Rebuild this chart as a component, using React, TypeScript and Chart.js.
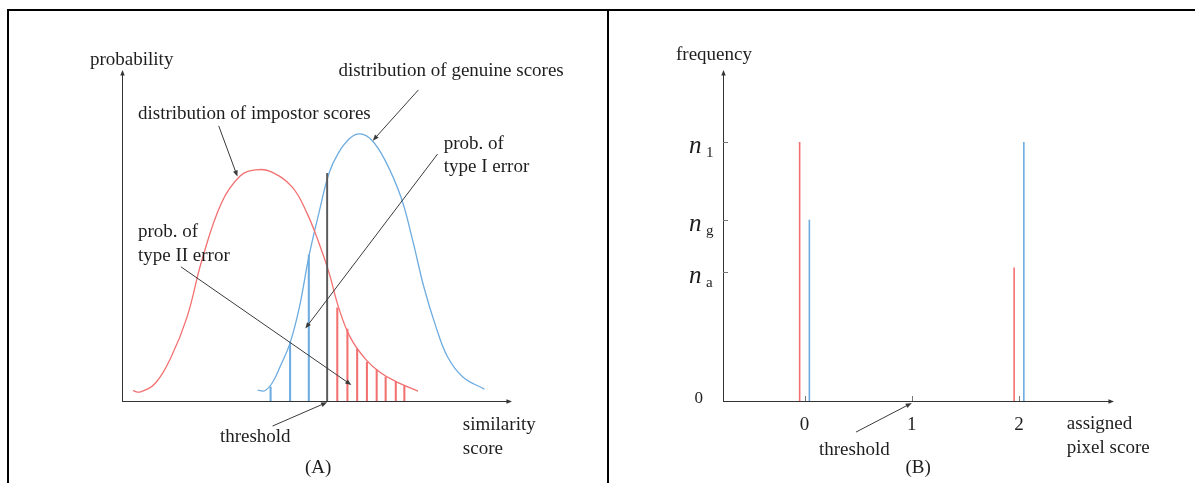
import React, { useEffect, useRef } from "react";
import { Chart, registerables } from "chart.js";

Chart.register(...registerables);

// ---------- Panel A: score distributions ----------
const impostorX = [2.8, 4.6, 8.6, 12.6, 16.7, 20.5, 25.5, 30.3, 34.4, 38.0, 43.6, 47.4, 50.5, 53.1, 55.5, 58.5, 62.6, 66.4, 70.5, 75.9];
const impostorP = [0.032, 0.028, 0.056, 0.137, 0.262, 0.439, 0.617, 0.701, 0.72, 0.715, 0.667, 0.586, 0.492, 0.399, 0.293, 0.199, 0.128, 0.087, 0.059, 0.031];
const genuineX = [34.8, 36.6, 38.5, 40.5, 43.1, 45.5, 47.9, 50.5, 53.1, 55.5, 58.5, 61.0, 64.0, 67.4, 71.5, 74.5, 77.4, 80.5, 83.5, 87.4, 92.9];
const genuineP = [0.034, 0.032, 0.056, 0.106, 0.181, 0.293, 0.449, 0.586, 0.71, 0.773, 0.819, 0.832, 0.813, 0.751, 0.636, 0.502, 0.355, 0.231, 0.137, 0.075, 0.037];
const typeIErrorX = [38.1, 43.1, 47.9];
const typeIErrorP = [0.044, 0.184, 0.455];
const typeIIErrorX = [55.2, 57.8, 60.3, 62.8, 65.3, 67.6, 70.2, 72.4];
const typeIIErrorP = [0.29, 0.224, 0.162, 0.121, 0.097, 0.075, 0.059, 0.047];
const thresholdScore = [52.6];
const thresholdHeight = [0.709];

// ---------- Panel B: assigned pixel score histogram ----------
const pixelScores = [0, 1, 2];
const impostorFreq = [1, 0, 0.515];
const genuineFreq = [0.7, 0, 1];
const freqTickValues = [1, 0.7, 0.5];
const freqTickSubs = ["1", "g", "a"];
const pixelThreshold = 1;

const RED = "rgb(243,112,112)";
const BLUE = "rgb(110,172,224)";
const AXIS = "#5a5a5a";
const INK = "#1e1e1e";
const SERIF = "'Liberation Serif', 'Times New Roman', serif";

// annotation layout (data coordinates of each panel)
const textsA = [
  { t: "probability", x: -8.2, y: 1.047 },
  { t: "distribution of genuine scores", x: 55.5, y: 1.012 },
  { t: "distribution of impostor scores", x: 4.1, y: 0.879 },
  { t: "prob. of", x: 82.5, y: 0.785 },
  { t: "type I error", x: 82.5, y: 0.713 },
  { t: "prob. of", x: 4.1, y: 0.511 },
  { t: "type II error", x: 4.1, y: 0.436 },
  { t: "threshold", x: 25.1, y: -0.128 },
  { t: "similarity", x: 87.4, y: -0.09 },
  { t: "score", x: 87.4, y: -0.165 },
  { t: "(A)", x: 46.9, y: -0.224 },
];
const arrowsA = [
  { x1: 24.8, y1: 0.857, x2: 29.6, y2: 0.699 },
  { x1: 76.0, y1: 0.969, x2: 64.3, y2: 0.811 },
  { x1: 80.9, y1: 0.769, x2: 47.0, y2: 0.226 },
  { x1: 15.1, y1: 0.418, x2: 58.8, y2: 0.05 },
  { x1: 38.6, y1: -0.078, x2: 52.6, y2: -0.004 },
];
const textsB = [
  { t: "frequency", x: -1.198, y: 1.317 },
  { t: "threshold", x: 0.135, y: -0.208 },
  { t: "(B)", x: 0.942, y: -0.278 },
  { t: "assigned", x: 2.446, y: -0.108 },
  { t: "pixel score", x: 2.446, y: -0.201 },
];
const arrowsB = [{ x1: 0.48, y1: -0.12, x2: pixelThreshold, y2: -0.008 }];

function arrow(ctx: CanvasRenderingContext2D, x1: number, y1: number, x2: number, y2: number, color: string, head = 6.5) {
  ctx.save();
  ctx.strokeStyle = color;
  ctx.fillStyle = color;
  ctx.lineWidth = 1;
  const a = Math.atan2(y2 - y1, x2 - x1);
  ctx.beginPath();
  ctx.moveTo(x1, y1);
  ctx.lineTo(x2 - Math.cos(a) * head * 0.6, y2 - Math.sin(a) * head * 0.6);
  ctx.stroke();
  ctx.beginPath();
  ctx.moveTo(x2, y2);
  ctx.lineTo(x2 - head * Math.cos(a - 0.38), y2 - head * Math.sin(a - 0.38));
  ctx.lineTo(x2 - head * Math.cos(a + 0.38), y2 - head * Math.sin(a + 0.38));
  ctx.closePath();
  ctx.fill();
  ctx.restore();
}

function drawAxes(chart: any) {
  const ctx = chart.ctx as CanvasRenderingContext2D;
  const { left, right, top, bottom } = chart.chartArea;
  ctx.save();
  ctx.strokeStyle = AXIS;
  ctx.lineWidth = 1;
  ctx.beginPath();
  ctx.moveTo(left + 0.5, bottom + 0.5);
  ctx.lineTo(left + 0.5, top + 5);
  ctx.moveTo(left, bottom + 0.5);
  ctx.lineTo(right - 5, bottom + 0.5);
  ctx.stroke();
  ctx.restore();
  arrow(ctx, left + 0.5, bottom, left + 0.5, top, "#333", 6);
  arrow(ctx, left, bottom + 0.5, right, bottom + 0.5, "#333", 6);
}

function drawTexts(chart: any, texts: { t: string; x: number; y: number }[], arrows: any[]) {
  const ctx = chart.ctx as CanvasRenderingContext2D;
  const xs = chart.scales.x;
  const ys = chart.scales.y;
  ctx.save();
  ctx.fillStyle = INK;
  ctx.font = `19px ${SERIF}`;
  ctx.textAlign = "left";
  ctx.textBaseline = "alphabetic";
  texts.forEach((d) => ctx.fillText(d.t, xs.getPixelForValue(d.x), ys.getPixelForValue(d.y)));
  ctx.restore();
  arrows.forEach((a) =>
    arrow(ctx, xs.getPixelForValue(a.x1), ys.getPixelForValue(a.y1), xs.getPixelForValue(a.x2), ys.getPixelForValue(a.y2), "#3a3a3a")
  );
}

const panelAPlugin = {
  id: "panelA",
  beforeDatasetsDraw(chart: any) {
    drawAxes(chart);
  },
  afterDatasetsDraw(chart: any) {
    drawTexts(chart, textsA, arrowsA);
  },
};

const panelBPlugin = {
  id: "panelB",
  beforeDatasetsDraw(chart: any) {
    const ctx = chart.ctx as CanvasRenderingContext2D;
    const xs = chart.scales.x;
    const ys = chart.scales.y;
    const { left, bottom } = chart.chartArea;
    drawAxes(chart);
    ctx.save();
    ctx.strokeStyle = "#777";
    ctx.lineWidth = 1;
    ctx.beginPath();
    freqTickValues.forEach((v) => {
      const y = Math.round(ys.getPixelForValue(v)) + 0.5;
      ctx.moveTo(left, y);
      ctx.lineTo(left + 5, y);
    });
    pixelScores.forEach((v) => {
      const x = Math.round(xs.getPixelForValue(v)) + 0.5;
      ctx.moveTo(x, bottom);
      ctx.lineTo(x, bottom - 5);
    });
    ctx.stroke();
    ctx.restore();
  },
  afterDatasetsDraw(chart: any) {
    const ctx = chart.ctx as CanvasRenderingContext2D;
    const xs = chart.scales.x;
    const ys = chart.scales.y;
    const { left, bottom } = chart.chartArea;
    drawTexts(chart, textsB, arrowsB);
    ctx.save();
    ctx.fillStyle = INK;
    // x tick labels
    ctx.font = `19px ${SERIF}`;
    ctx.textAlign = "center";
    ctx.textBaseline = "alphabetic";
    pixelScores.forEach((v) => ctx.fillText(String(v), xs.getPixelForValue(v), bottom + 29));
    // y tick labels
    ctx.font = `17px ${SERIF}`;
    ctx.textAlign = "right";
    ctx.fillText("0", left - 20, ys.getPixelForValue(0) + 2);
    freqTickValues.forEach((v, i) => {
      const y = ys.getPixelForValue(v);
      ctx.textAlign = "left";
      ctx.font = `italic 25px ${SERIF}`;
      ctx.fillText("n", left - 34, y + 11);
      ctx.font = `15px ${SERIF}`;
      ctx.fillText(freqTickSubs[i], left - 17, y + 15);
    });
    ctx.restore();
  },
};

export default function App() {
  const refA = useRef<HTMLCanvasElement | null>(null);
  const refB = useRef<HTMLCanvasElement | null>(null);

  useEffect(() => {
    const chartA = new Chart(refA.current as HTMLCanvasElement, {
      type: "line",
      data: {
        datasets: [
          {
            type: "bar",
            label: "type I error",
            data: typeIErrorX.map((x, i) => ({ x, y: typeIErrorP[i] })),
            backgroundColor: BLUE,
            barThickness: 1.4,
            grouped: false,
          } as any,
          {
            type: "bar",
            label: "type II error",
            data: typeIIErrorX.map((x, i) => ({ x, y: typeIIErrorP[i] })),
            backgroundColor: RED,
            barThickness: 1.4,
            grouped: false,
          } as any,
          {
            type: "bar",
            label: "threshold",
            data: thresholdScore.map((x, i) => ({ x, y: thresholdHeight[i] })),
            backgroundColor: "#5a5a5a",
            barThickness: 1.3,
            grouped: false,
          } as any,
          {
            type: "line",
            label: "impostor",
            data: impostorX.map((x, i) => ({ x, y: impostorP[i] })),
            borderColor: RED,
            borderWidth: 1.3,
            pointRadius: 0,
            fill: false,
            tension: 0.4,
          },
          {
            type: "line",
            label: "genuine",
            data: genuineX.map((x, i) => ({ x, y: genuineP[i] })),
            borderColor: BLUE,
            borderWidth: 1.3,
            pointRadius: 0,
            fill: false,
            tension: 0.4,
          },
        ],
      },
      options: {
        animation: false,
        responsive: false,
        events: [],
        layout: { padding: { left: 122, right: 95, top: 70, bottom: 82 } },
        plugins: { legend: { display: false }, tooltip: { enabled: false } },
        scales: {
          x: { type: "linear", min: 0, max: 100, display: false, offset: false },
          y: { type: "linear", min: 0, max: 1.031, display: false },
        },
      },
      plugins: [panelAPlugin],
    } as any);

    const chartB = new Chart(refB.current as HTMLCanvasElement, {
      type: "bar",
      data: {
        datasets: [
          {
            label: "impostor",
            data: pixelScores.map((x, i) => ({ x, y: impostorFreq[i] })),
            backgroundColor: RED,
            categoryPercentage: 0.181,
            barPercentage: 0.165,
          },
          {
            label: "genuine",
            data: pixelScores.map((x, i) => ({ x, y: genuineFreq[i] })),
            backgroundColor: BLUE,
            categoryPercentage: 0.181,
            barPercentage: 0.165,
          },
        ],
      },
      options: {
        animation: false,
        responsive: false,
        events: [],
        layout: { padding: { left: 114, right: 81, top: 70, bottom: 82 } },
        plugins: { legend: { display: false }, tooltip: { enabled: false } },
        scales: {
          x: {
            type: "linear",
            min: -0.76,
            max: 2.886,
            display: false,
            offset: false,
            grid: { offset: false },
            ticks: { stepSize: 1, includeBounds: false },
          },
          y: { type: "linear", min: 0, max: 1.278, display: false },
        },
      },
      plugins: [panelBPlugin],
    } as any);

    return () => {
      chartA.destroy();
      chartB.destroy();
    };
  }, []);

  const line = (s: React.CSSProperties): React.CSSProperties => ({ position: "absolute", background: "#000", ...s });

  return (
    <div style={{ position: "absolute", left: 0, top: 0, width: 1195, height: 483, overflow: "hidden", background: "#fff" }}>
      <canvas ref={refA} width={607} height={483} style={{ position: "absolute", left: 0, top: 0 }} />
      <canvas ref={refB} width={586} height={483} style={{ position: "absolute", left: 609, top: 0 }} />
      <div style={line({ left: 7, top: 9, width: 1188, height: 2 })} />
      <div style={line({ left: 7, top: 9, width: 2, height: 474 })} />
      <div style={line({ left: 607, top: 9, width: 2, height: 474 })} />
    </div>
  );
}
